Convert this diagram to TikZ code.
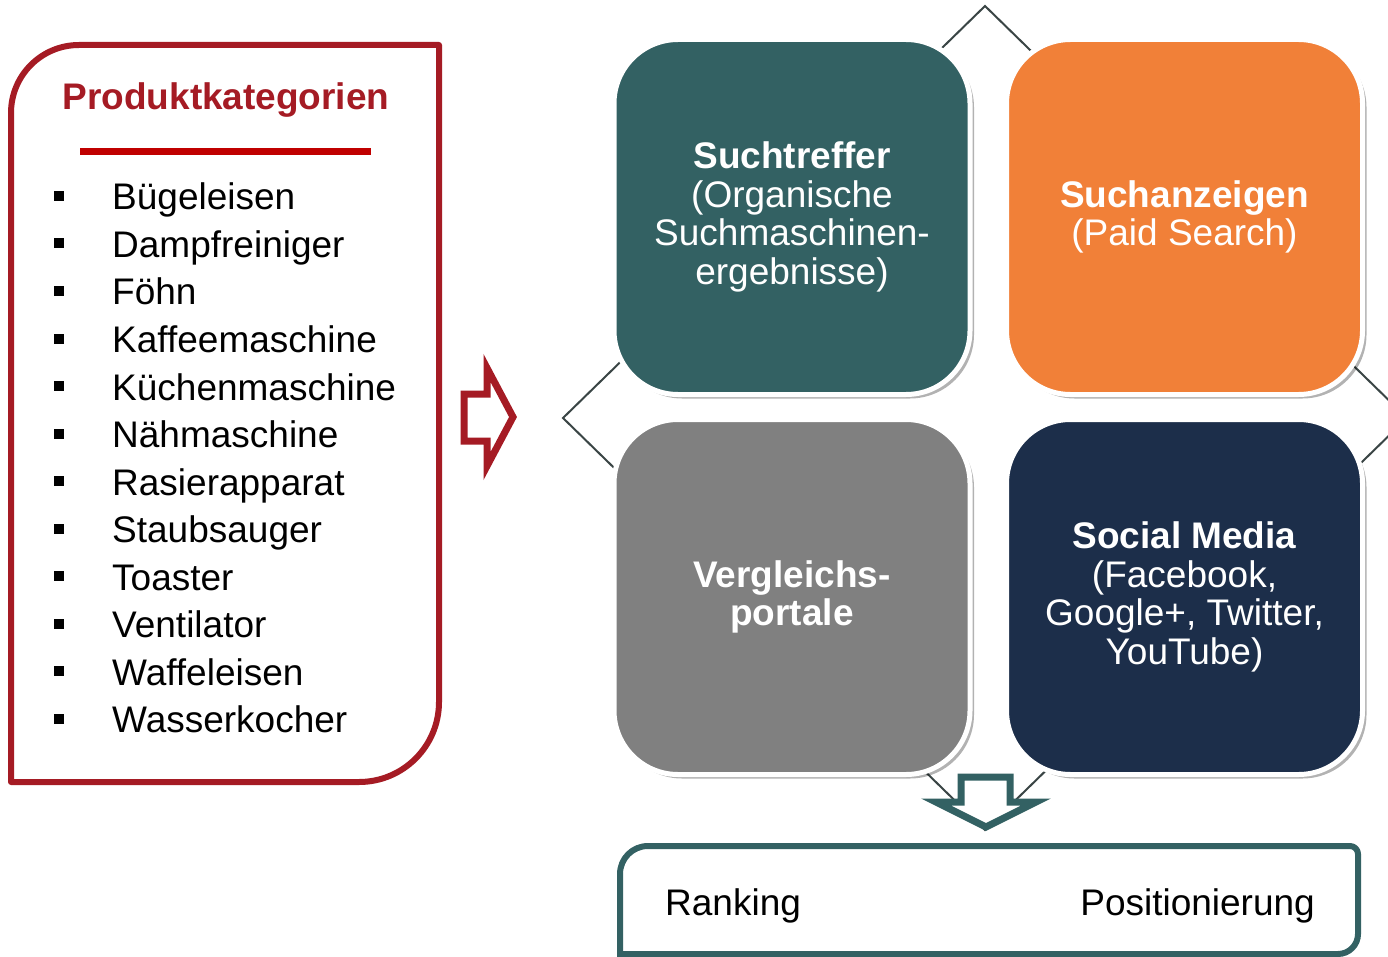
\documentclass[tikz,border=0pt]{standalone}
\usepackage{fontspec}
\setmainfont{Liberation Sans}
\usetikzlibrary{shadows}
\definecolor{boxred}{HTML}{A51B24}
\definecolor{linered}{HTML}{C00000}
\definecolor{myteal}{HTML}{336163}
\definecolor{myorange}{HTML}{F18038}
\definecolor{mygray}{HTML}{808080}
\definecolor{mynavy}{HTML}{1C2E4A}
\definecolor{dline}{HTML}{3A4545}
\begin{document}
\begin{tikzpicture}[x=1pt,y=-1pt,
  sq/.style={draw=white, line width=5pt, rounded corners=64pt,
    minimum width=356pt, minimum height=355pt, text=white, align=center,
    font=\fontsize{37}{38.5}\selectfont,
    drop shadow={shadow xshift=4pt, shadow yshift=-4pt, opacity=0.3, fill=black}},
  item/.style={anchor=base west, font=\fontsize{37}{44}\selectfont, inner sep=0pt},
  bulletsq/.style={fill=black, minimum size=10pt, inner sep=0pt},
  plain/.style={font=\fontsize{37}{44}\selectfont, inner sep=0pt}]
\fill[white] (0,0) rectangle (1388,957);
\useasboundingbox (0,0) rectangle (1388,957);

% left box
\draw[boxred, line width=6pt, line join=round]
  (11,782) -- (11,113) .. controls (11,75.4) and (41.4,45) .. (79,45)
  -- (439,45) -- (439,702) .. controls (439,746.2) and (403.2,782) .. (359,782) -- cycle;
\node[anchor=base, text=boxred, font=\bfseries\fontsize{37}{40}\selectfont, inner sep=0pt]
  (title) at (226,110) {Produktkategorien};
\draw[linered, line width=7pt] (80,152) -- (371,152);
\foreach \t [count=\i from 0] in {Bügeleisen,Dampfreiniger,Föhn,Kaffeemaschine,Küchenmaschine,Nähmaschine,Rasierapparat,Staubsauger,Toaster,Ventilator,Waffeleisen,Wasserkocher}{
  \node[item] (item\i) at (112,{210+47.5*\i}) {\t};
  \node[bulletsq] (b\i) at (59,{196+47.5*\i}) {};
}

% red arrow
\draw[boxred, line width=7pt, miter limit=10]
  (464,394) -- (487,394) -- (487,368) -- (513,417) -- (487,466) -- (487,441) -- (464,441) -- cycle;

% diamond
\coordinate (dtop) at (985,6);
\coordinate (dleft) at (563,418);
\coordinate (dbottom) at (985,830);
\coordinate (dright) at (1407,418);
\draw[dline, line width=2pt] (dtop) -- (dleft) -- (dbottom) -- (dright) -- cycle;

% squares
\node[sq, fill=myteal] (s1) at (792,217)
  {\textbf{Suchtreffer}\\(Organische\\Suchmaschinen-\\ergebnisse)};
\node[sq, fill=myorange] (s2) at (1184.5,217)
  {\textbf{Suchanzeigen}\\(Paid Search)};
\node[sq, fill=mygray] (s3) at (792,597)
  {\textbf{Vergleichs-}\\\textbf{portale}};
\node[sq, fill=mynavy] (s4) at (1184.5,597)
  {\textbf{Social Media}\\(Facebook,\\Google+, Twitter,\\YouTube)};

% down arrow
\draw[myteal, fill=white, line width=7pt, miter limit=10]
  (961,777) -- (1010,777) -- (1010,802) -- (1036,802) -- (986,827) -- (936,802) -- (961,802) -- cycle;

% bottom box
\draw[myteal, line width=6pt, line join=round]
  (620,960) -- (620,874) .. controls (620,858.5) and (632.5,846) .. (648,846)
  -- (1350,846) .. controls (1354.4,846) and (1358,849.6) .. (1358,854)
  -- (1358,934) .. controls (1358,945) and (1349,954) .. (1338,954) -- (620,954);
\node[plain, anchor=base west] (rank) at (665,915) {Ranking};
\node[plain, anchor=base east] (pos) at (1315,915) {Positionierung};
\end{tikzpicture}
\end{document}
